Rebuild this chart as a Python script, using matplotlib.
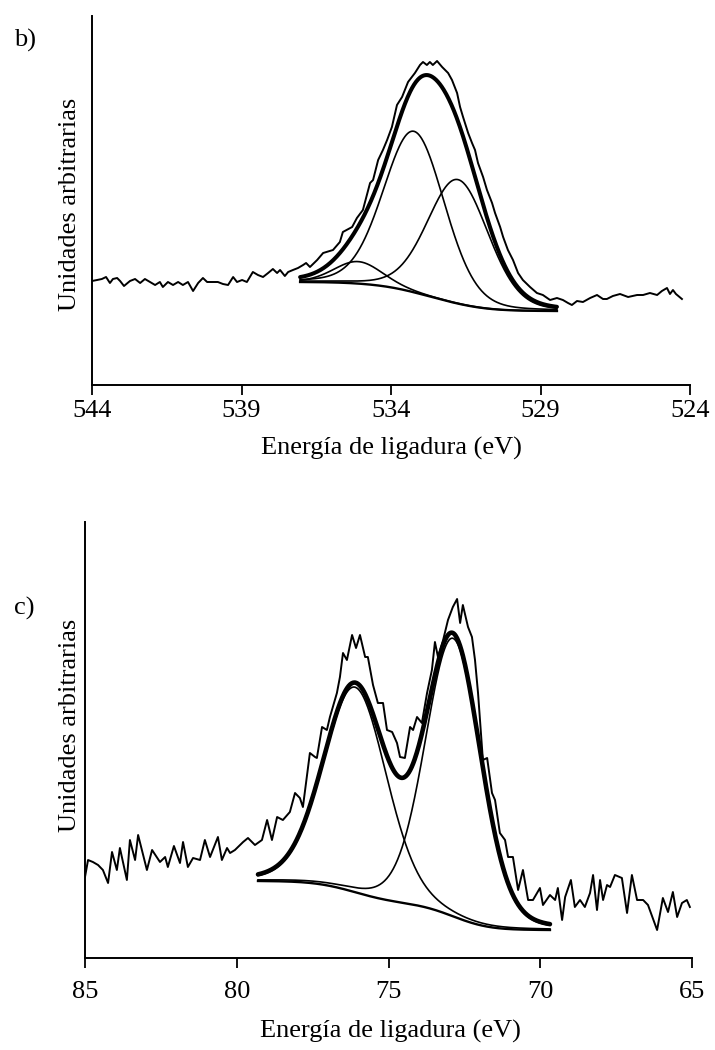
import matplotlib
matplotlib.use('Agg')
import matplotlib.pyplot as plt
import numpy as np

plt.rcParams['font.family'] = ['Liberation Serif', 'DejaVu Serif']
plt.rcParams['font.size'] = 19

W, H = 715, 1050

# ── Panel b: O 1s raw spectrum (binding energy eV, counts a.u.) ──
b_energy = [544.00, 543.83, 543.67, 543.53, 543.40, 543.30, 543.16, 543.06, 542.93, 542.73,
            542.56, 542.39, 542.23, 542.06, 541.89, 541.73, 541.63, 541.46, 541.29, 541.12,
            540.96, 540.79, 540.62, 540.45, 540.29, 540.15, 539.95, 539.79, 539.62, 539.45,
            539.28, 539.15, 538.98, 538.82, 538.62, 538.45, 538.28, 538.11, 537.95, 537.81,
            537.71, 537.55, 537.44, 537.28, 537.11, 536.94, 536.84, 536.71, 536.47, 536.27,
            535.94, 535.71, 535.61, 535.30, 535.14, 534.94, 534.70, 534.60, 534.43, 534.27,
            534.13, 533.97, 533.80, 533.63, 533.43, 533.20, 533.03, 532.93, 532.80, 532.70,
            532.60, 532.46, 532.29, 532.09, 531.96, 531.79, 531.69, 531.59, 531.42, 531.29,
            531.19, 531.09, 530.92, 530.79, 530.62, 530.52, 530.35, 530.25, 530.09, 529.92,
            529.75, 529.59, 529.35, 529.12, 528.92, 528.68, 528.45, 528.25, 528.08, 527.95,
            527.78, 527.58, 527.34, 527.11, 526.91, 526.78, 526.58, 526.34, 526.07, 525.77,
            525.57, 525.34, 525.10, 524.94, 524.77, 524.67, 524.57, 524.47, 524.27]
b_counts = [104, 105, 106, 108, 102, 106, 107, 104, 99, 104,
            106, 102, 106, 103, 100, 103, 98, 103, 100, 103,
            100, 103, 94, 102, 107, 103, 103, 103, 101, 100,
            108, 103, 105, 103, 113, 110, 108, 112, 116, 112,
            115, 109, 113, 115, 117, 120, 122, 118, 125, 132,
            135, 143, 153, 158, 167, 175, 202, 205, 225, 235,
            245, 258, 280, 288, 303, 312, 320, 323, 320, 323,
            320, 324, 318, 312, 305, 292, 278, 268, 252, 242,
            235, 222, 208, 195, 182, 172, 158, 148, 135, 125,
            112, 105, 98, 92, 90, 85, 87, 85, 82, 80,
            84, 83, 87, 90, 86, 86, 89, 91, 88, 90,
            90, 92, 90, 94, 97, 91, 95, 91, 86]

# fit of panel b (centre eV, height above background, FWHM eV)
b_centres = [535.1, 533.23, 531.76]
b_heights = [22, 161, 124]
b_fwhm = [1.9, 2.4, 2.4]
b_fit_range = (537.04, 528.45)
b_bg_ends = (103, 74)

# ── Panel c: raw spectrum (binding energy eV, counts a.u.) ──
c_energy = [85.00, 84.90, 84.74, 84.57, 84.41, 84.24, 84.11, 83.95, 83.85, 83.62,
            83.52, 83.35, 83.25, 82.96, 82.79, 82.53, 82.36, 82.27, 82.07, 81.87,
            81.77, 81.61, 81.44, 81.21, 81.05, 80.88, 80.62, 80.49, 80.32, 80.22,
            80.06, 79.79, 79.63, 79.40, 79.17, 79.00, 78.84, 78.67, 78.48, 78.25,
            78.08, 77.92, 77.82, 77.59, 77.42, 77.36, 77.19, 77.03, 76.93, 76.70,
            76.60, 76.50, 76.37, 76.20, 76.07, 75.94, 75.77, 75.68, 75.51, 75.35,
            75.18, 75.05, 74.88, 74.72, 74.62, 74.46, 74.29, 74.19, 74.06, 73.90,
            73.73, 73.57, 73.47, 73.37, 73.20, 73.04, 72.88, 72.74, 72.64, 72.55,
            72.38, 72.25, 72.15, 72.05, 71.89, 71.75, 71.59, 71.49, 71.33, 71.16,
            71.06, 70.90, 70.73, 70.57, 70.40, 70.24, 70.01, 69.91, 69.68, 69.51,
            69.42, 69.28, 69.18, 68.99, 68.86, 68.69, 68.53, 68.36, 68.26, 68.13,
            68.03, 67.93, 67.80, 67.70, 67.54, 67.31, 67.14, 66.98, 66.81, 66.61,
            66.45, 66.15, 65.96, 65.79, 65.63, 65.49, 65.33, 65.17, 65.07]
c_counts = [66, 83, 81, 78, 73, 60, 91, 73, 95, 63,
            103, 83, 108, 73, 93, 81, 86, 76, 97, 80,
            101, 76, 85, 83, 103, 86, 106, 83, 95, 90,
            93, 101, 105, 98, 103, 123, 103, 126, 123, 131,
            150, 145, 136, 190, 186, 185, 216, 213, 226, 250,
            266, 290, 283, 308, 295, 308, 286, 286, 258, 240,
            240, 213, 211, 200, 186, 185, 216, 213, 226, 220,
            250, 273, 301, 286, 303, 323, 336, 344, 320, 338,
            316, 306, 283, 250, 183, 185, 150, 143, 110, 103,
            86, 86, 53, 73, 43, 43, 55, 38, 48, 43,
            55, 23, 46, 63, 36, 43, 36, 50, 68, 33,
            63, 43, 58, 56, 68, 65, 30, 68, 43, 43,
            38, 13, 45, 31, 51, 26, 40, 43, 36]

c_centres = [76.1, 72.87]
c_heights = [205, 278]
c_fwhm = [2.45, 2.15]
c_fit_range = (79.3, 69.68)
c_bg_ends = (62, 13)


def gl(e, centre, height, fwhm, mix=0.15):
    x = (e - centre) / fwhm
    return height * ((1 - mix) * np.exp(-4 * np.log(2) * x ** 2) + mix / (1 + 4 * x ** 2))


def fit_curves(e_range, bg_ends, centres, heights, fwhms):
    e = np.linspace(e_range[0], e_range[1], 400)
    comps = [gl(e, c, h, w) for c, h, w in zip(centres, heights, fwhms)]
    total = np.sum(comps, axis=0)
    # Shirley-type background: step follows the cumulative peak area
    area = np.cumsum(total[::-1])[::-1]
    frac = (area - area[-1]) / (area[0] - area[-1])
    bg = bg_ends[1] + (bg_ends[0] - bg_ends[1]) * frac
    return e, bg, comps, bg + total


def draw_panel(ax, energy, counts, e_range, bg_ends, centres, heights, fwhms,
               env_lw):
    ax.plot(energy, counts, color='black', lw=1.4, zorder=2,
            solid_joinstyle='round')
    e, bg, comps, env = fit_curves(e_range, bg_ends, centres, heights, fwhms)
    for comp in comps:
        ax.plot(e, bg + comp, color='black', lw=1.2, zorder=3)
    ax.plot(e, bg, color='black', lw=1.7, zorder=3)
    ax.plot(e, env, color='black', lw=env_lw, zorder=4, solid_capstyle='round')


def style(ax, xlim, ticks, ylim, pad):
    ax.set_xlim(*xlim)
    ax.set_ylim(*ylim)
    ax.set_xticks(ticks)
    ax.set_xticklabels([str(t) for t in ticks])
    ax.set_yticks([])
    for s in ['top', 'right']:
        ax.spines[s].set_visible(False)
    for s in ['left', 'bottom']:
        ax.spines[s].set_linewidth(1.4)
    ax.tick_params(axis='x', direction='out', length=7.5, width=1.3, pad=pad,
                   labelsize=19)


def px_axes(left, top, right, bottom):
    return [left / W, 1 - bottom / H, (right - left) / W, (bottom - top) / H]


fig = plt.figure(figsize=(W / 100, H / 100), dpi=100)

# ══ panel b ══
ax_b = fig.add_axes(px_axes(92, 16, 690, 385))
draw_panel(ax_b, b_energy, b_counts, b_fit_range, b_bg_ends,
           b_centres, b_heights, b_fwhm, env_lw=2.9)
style(ax_b, (544, 524), [544, 539, 534, 529, 524], (0, 369), pad=3)
fig.text(14 / W, 1 - 40 / H, 'b)', ha='left', va='center', fontsize=19)
fig.text(70 / W, 1 - 204 / H, 'Unidades arbitrarias', rotation=90,
         ha='center', va='center', fontsize=19)
fig.text(391 / W, 1 - 448 / H, 'Energía de ligadura (eV)',
         ha='center', va='center', fontsize=19)

# ══ panel c ══
ax_c = fig.add_axes(px_axes(85, 522, 692, 958))
draw_panel(ax_c, c_energy, c_counts, c_fit_range, c_bg_ends,
           c_centres, c_heights, c_fwhm, env_lw=3.3)
style(ax_c, (85, 65), [85, 80, 75, 70, 65], (-15, 421), pad=9)
fig.text(14 / W, 1 - 608 / H, 'c)', ha='left', va='center', fontsize=19)
fig.text(70 / W, 1 - 725 / H, 'Unidades arbitrarias', rotation=90,
         ha='center', va='center', fontsize=19)
fig.text(390 / W, 1 - 1031 / H, 'Energía de ligadura (eV)',
         ha='center', va='center', fontsize=19)

fig.savefig('out.png', dpi=100, facecolor='white')
plt.close(fig)
